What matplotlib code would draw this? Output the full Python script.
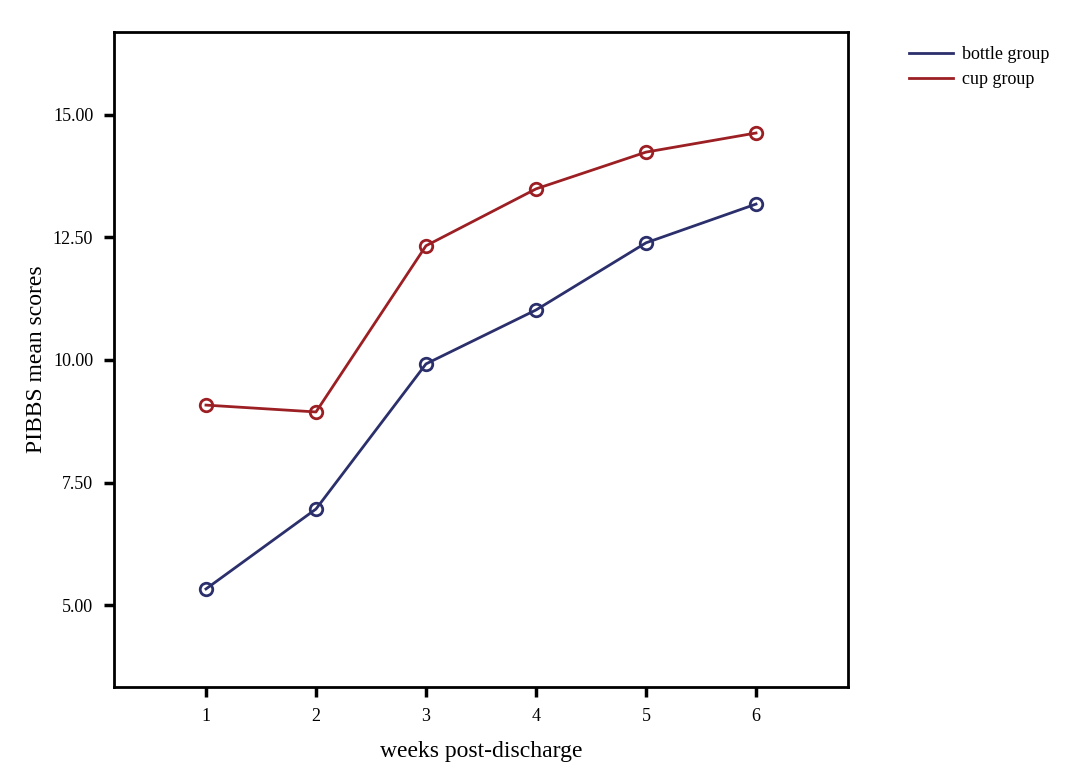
import matplotlib
matplotlib.use("Agg")
import matplotlib.pyplot as plt

weeks = [1, 2, 3, 4, 5, 6]
bottle = [5.33, 6.96, 9.92, 11.02, 12.39, 13.18]
cup = [9.08, 8.94, 12.33, 13.49, 14.24, 14.63]
yticks = [5.0, 7.5, 10.0, 12.5, 15.0]

plt.rcParams['font.family'] = ['Liberation Serif', 'DejaVu Serif']

fig = plt.figure(figsize=(10.69, 7.81), dpi=100)
ax = fig.add_axes([114/1069, 1-687/781, (848-114)/1069, (687-32)/781])

navy = '#2b2f6b'
red = '#9c1f24'
ax.plot(weeks, bottle, color=navy, lw=2, marker='o', ms=9, mfc='none', mew=2, label='bottle group')
ax.plot(weeks, cup, color=red, lw=2, marker='o', ms=9, mfc='none', mew=2, label='cup group')

ax.set_xlim(0.164, 6.836)
ax.set_ylim(3.33, 16.69)
ax.set_xticks(weeks)
ax.set_yticks(yticks)
ax.set_yticklabels([f"{v:.2f}" for v in yticks])
ax.tick_params(direction='out', length=7, width=2.5, labelsize=13, pad=8)
for s in ax.spines.values():
    s.set_linewidth(2)

ax.set_xlabel('weeks post-discharge', fontsize=17, labelpad=12)
ax.set_ylabel('PIBBS mean scores', fontsize=17, labelpad=4)

fig.legend(handles=ax.get_lines(), labels=['bottle group', 'cup group'],
           loc='upper left', bbox_to_anchor=(893/1069, 1-30/781), frameon=False,
           fontsize=13, handlelength=2.4, handletextpad=0.5, labelspacing=0.45)
leg = fig.legends[0]
for h in leg.legend_handles:
    h.set_marker('')

fig.savefig('out.png', dpi=100)
